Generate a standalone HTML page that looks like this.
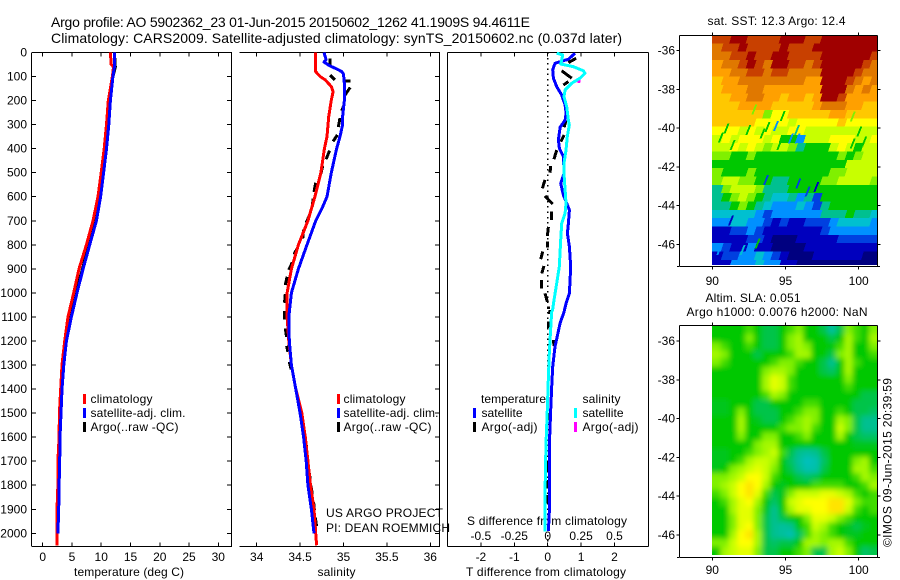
<!DOCTYPE html>
<html>
<head>
<meta charset="utf-8">
<title>Argo profile</title>
<style>
html,body{margin:0;padding:0;background:#fff;}
body{width:900px;height:580px;overflow:hidden;}
svg{display:block;}
text{font-family:"Liberation Sans",sans-serif;font-size:12px;fill:#000;}
.title{font-size:14px;}
</style>
</head>
<body>
<svg id="chart" xmlns="http://www.w3.org/2000/svg" width="900" height="580" viewBox="0 0 900 580">
<defs>
<clipPath id="clip-sst"><rect x="712" y="35" width="165.5" height="230"/></clipPath>
<clipPath id="clip-sla"><rect x="712" y="326" width="165.5" height="229"/></clipPath>
<clipPath id="clip-p1"><rect x="32" y="52" width="200" height="494"/></clipPath>
<clipPath id="clip-p2"><rect x="240" y="52" width="200" height="494"/></clipPath>
<clipPath id="clip-p3"><rect x="448" y="52" width="200" height="494"/></clipPath>
<filter id="soft" filterUnits="userSpaceOnUse" x="680" y="300" width="220" height="280"><feGaussianBlur stdDeviation="2.6"/></filter>
</defs>

<text class="title" x="51" y="27" textLength="479">Argo profile: AO 5902362_23 01-Jun-2015 20150602_1262 41.1909S 94.4611E</text>
<text class="title" x="51" y="43" textLength="571">Climatology: CARS2009. Satellite-adjusted climatology: synTS_20150602.nc (0.037d later)</text>

<text x="74" y="576" textLength="110">temperature (deg C)</text>
<text x="317.500" y="576" textLength="38">salinity</text>
<text x="466" y="576" textLength="160">T difference from climatology</text>
<text x="467" y="525" textLength="160">S difference from climatology</text>

<text x="326" y="517" textLength="117">US ARGO PROJECT</text>
<text x="326" y="532" textLength="124">PI: DEAN ROEMMICH</text>

<g>
<rect x="83" y="394" width="3" height="10" fill="#f00"/>
<text x="90.500" y="403" textLength="62">climatology</text>
<rect x="83" y="408" width="3" height="10" fill="#00f"/>
<text x="90.500" y="417" textLength="95">satellite-adj. clim.</text>
<rect x="83" y="422" width="3" height="10" fill="#000"/>
<text x="90.500" y="431" textLength="88">Argo(..raw -QC)</text>
</g>

<g>
<rect x="337" y="394" width="3" height="10" fill="#f00"/>
<text x="343.500" y="403" textLength="62">climatology</text>
<rect x="337" y="408" width="3" height="10" fill="#00f"/>
<text x="343.500" y="417" textLength="95">satellite-adj. clim.</text>
<rect x="337" y="422" width="3" height="10" fill="#000"/>
<text x="343.500" y="431" textLength="88">Argo(..raw -QC)</text>
</g>

<g>
<text x="481" y="403" textLength="65">temperature</text>
<rect x="473" y="408" width="3" height="10" fill="#00f"/>
<text x="481.500" y="417" textLength="41">satellite</text>
<rect x="473" y="422" width="3" height="10" fill="#000"/>
<text x="481.500" y="431" textLength="56">Argo(-adj)</text>
<text x="582.500" y="403" textLength="38">salinity</text>
<rect x="574" y="408" width="3" height="10" fill="#0ff"/>
<text x="582.500" y="417" textLength="41">satellite</text>
<rect x="574" y="422" width="3" height="10" fill="#f0f"/>
<text x="582.500" y="431" textLength="56">Argo(-adj)</text>
</g>

<text x="707.500" y="25" textLength="138">sat. SST: 12.3 Argo: 12.4</text>
<text x="705.500" y="302" textLength="95">Altim. SLA: 0.051</text>
<text x="686.500" y="316" textLength="181">Argo h1000: 0.0076 h2000: NaN</text>
<text transform="translate(891.500,547) rotate(-90)" x="0" y="0" textLength="169">©IMOS 09-Jun-2015 20:39:59</text>
</svg>

<script>
/* ---------- profile depth axis ---------- */
const depthTicks = [0,100,200,300,400,500,600,700,800,900,1000,1100,1200,1300,1400,1500,1600,1700,1800,1900,2000];
const tempTicks = [0,5,10,15,20,25,30];
const salTicks = [34,34.5,35,35.5,36];
const tDiffTicks = [-2,-1,0,1,2];
const sDiffTicks = [-0.5,-0.25,0,0.25,0.5];
const sDiffLabels = ["-0.5","-0.25","0","0.25","0.5"];
const mapLons = [90,95,100];
const mapLats = [-36,-38,-40,-42,-44,-46];

/* ---------- temperature panel ---------- */
const tempClimDepth = [0,50,60,100,200,300,400,500,600,700,800,900,1000,1100,1200,1300,1400,1500,1600,1700,1800,1900,2000,2050];
const tempClim = [11.56,11.7,12.1,11.9,11.2,10.9,10.5,10.0,9.45,8.6,7.46,6.2,5.3,4.33,3.76,3.3,3.08,2.85,2.8,2.6,2.6,2.45,2.45,2.45];
const tempSatDepth = [0,60,100,200,300,400,500,600,700,800,900,1000,1100,1200,1300,1400,1500,1600,1700,1800,1900,2000];
const tempSat = [12.3,12.25,12.0,11.56,11.3,10.9,10.4,9.9,9.17,8.03,6.9,5.86,4.9,4.05,3.6,3.3,3.13,2.96,2.9,2.8,2.73,2.6];
const tempArgoDepth = [20,60,100,200,300,400,500,600,700,800,900,1000,1100,1200,1300,1400,1500];
const tempArgo = [12.3,12.4,12.0,11.5,11.2,10.8,10.3,9.8,9.1,7.9,6.8,5.7,4.8,4.0,3.5,3.2,3.0];

/* ---------- salinity panel ---------- */
const salClimDepth = [0,80,100,114,142,163,198,267,350,400,500,600,700,800,900,1000,1100,1200,1300,1400,1500,1600,1700,1800,1900,2000,2050];
const salClim = [34.68,34.68,34.73,34.79,34.86,34.88,34.86,34.83,34.81,34.78,34.74,34.67,34.59,34.48,34.40,34.35,34.35,34.37,34.40,34.45,34.52,34.56,34.59,34.62,34.66,34.68,34.69];
const salSatDepth = [0,30,40,55,70,80,90,130,198,267,300,350,400,500,600,650,700,800,900,1000,1100,1200,1300,1400,1500,1600,1700,1800,1900,2000];
const salSat = [34.775,34.80,34.775,34.84,34.93,34.98,35.0,35.01,35.01,34.99,34.99,34.96,34.92,34.86,34.81,34.75,34.68,34.58,34.48,34.40,34.37,34.375,34.40,34.45,34.50,34.54,34.57,34.59,34.63,34.66];
const salArgoDepth = [25,52,null,94,114,null,118,118,null,145,177,null,214,242,null,273,310,null,343,370,null,408,444,null,471,504,null,542,580,null,607,641,null,676,708,null,737,773,null,813,840,null,873,904,null,933,967,null,1005,1041,null,1075,1110,null,1148,1183,null,1220,1245,null,1287,1317,null,1612,1641,null,1666,1705,null,1737,1772,null,1801,1835,null,1870,1903,null,1936,1971];
const salArgo = [34.844,34.844,null,34.844,34.90,null,35.017,35.083,null,35.077,35.017,null,35.01,34.98,null,34.96,34.94,null,34.93,34.88,null,34.84,34.80,null,34.76,34.74,null,34.68,34.66,null,34.65,34.64,null,34.61,34.57,null,34.54,34.53,null,34.47,34.43,null,34.41,34.37,null,34.35,34.33,null,34.33,34.32,null,34.32,34.32,null,34.33,34.345,null,34.345,34.36,null,34.375,34.395,null,34.56,34.575,null,34.575,34.595,null,34.60,34.615,null,34.625,34.64,null,34.655,34.665,null,34.675,34.69];

/* ---------- difference panel ---------- */
const tDiffSatDepth = [3,28,45,73,107,142,177,218,253,281,311,364,399,433,503,544,593,627,655,711,752,808,891,1002,1043,1078,1126,1224,1307,1390,1487,1626,1764,1903,1990];
const tDiffSat = [0.82,0.62,0.22,0.15,0.17,0.27,0.42,0.52,0.55,0.52,0.37,0.32,0.35,0.47,0.49,0.39,0.47,0.57,0.65,0.62,0.59,0.65,0.69,0.65,0.55,0.49,0.37,0.22,0.15,0.12,0.09,0.05,0.05,0.05,0.02];
const sDiffSatDepth = [3,10,31,48,59,76,87,107,128,156,184,225,281,302,350,406,461,503,572,627,669,711,780,891,960,1030,1071,1078,1154,1251,1348,1487,1626,1764,1903,1993];
const sDiffSat = [0.067,0.112,0.105,0.097,0.192,0.267,0.279,0.242,0.179,0.13,0.122,0.142,0.155,0.162,0.147,0.137,0.122,0.122,0.13,0.137,0.13,0.105,0.097,0.087,0.067,0.047,0.037,0.03,0.022,0.012,0.005,-0.003,-0.013,-0.018,-0.02,-0.02];
const tDiffArgoDepth = [24,42,null,76,107,null,135,121,null,281,311,null,343,371,null,406,444,null,472,500,null,530,565,null,597,630,null,662,697,null,725,763,null,787,811,null,828,860,null,888,919,null,946,981,null,1002,1037,null,1057,1068,null,1071,1088,null,1120,1147,null,1196,1221,null,1500,1530,null,1700,1740,null,1778,1813,null,1841,1875];
const tDiffArgo = [0.85,0.62,null,0.42,0.72,null,0.47,0.62,null,0.55,0.49,null,0.49,0.39,null,0.27,0.19,null,0.09,0.07,null,-0.08,-0.16,null,-0.08,0.15,null,0.12,0.12,null,0.02,-0.01,null,-0.01,-0.01,null,-0.15,-0.21,null,-0.11,-0.18,null,-0.18,-0.18,null,-0.08,-0.01,null,0.02,0.02,null,0.07,0.05,null,0.02,0.02,null,0.17,0.19,null,0.02,0.02,null,0.0,0.0,null,-0.01,-0.01,null,-0.01,-0.01];
const sDiffArgoDepth = [118,122];
const sDiffArgo = [0.22,0.245];

/* ---------- SST map (colour-level per cell, north to south, west to east) ---------- */
const sstLevels = [
[13,13,14,14,13,13,13,13,14,14,14,13,13,14,14,14,14,14,14,14],
[12,13,13,14,13,13,13,13,14,13,13,13,14,14,14,14,14,14,14,14],
[12,12,13,13,14,13,13,14,14,13,13,13,13,14,14,14,14,14,14,13],
[11,12,12,13,14,13,12,14,14,13,13,12,13,14,14,14,14,14,13,12],
[11,11,12,12,13,13,12,13,13,12,12,12,12,14,14,14,14,13,12,12],
[10,11,11,12,12,12,12,12,12,12,12,11,11,14,14,14,13,12,11,12],
[10,11,11,11,12,12,11,11,11,11,11,11,11,14,14,14,12,11,12,11],
[10,10,11,11,12,12,11,11,10,11,11,10,11,14,14,13,11,11,11,11],
[10,10,10,11,11,11,11,10,10,10,10,10,11,12,12,12,11,11,10,10],
[10,10,10,10,10,10,7,9,9,10,10,10,10,10,11,11,10,10,10,10],
[10,10,10,10,10,9,9,9,9,8,9,9,9,9,9,10,9,9,9,9],
[9,9,9,8,9,8,9,8,8,9,9,8,8,8,8,8,8,8,8,8],
[8,9,8,9,9,9,8,9,6,6,3,8,8,8,9,9,9,8,8,9],
[8,8,9,8,9,8,7,8,8,7,5,6,6,6,8,9,8,6,8,8],
[7,7,6,6,7,6,6,6,6,6,6,6,6,6,6,7,6,7,8,8],
[6,6,6,6,6,6,6,6,6,6,6,6,6,6,6,6,8,8,8,8],
[7,6,6,6,7,6,6,6,6,6,6,6,6,6,7,7,8,8,8,8],
[7,8,8,7,7,6,6,5,5,6,6,6,6,7,7,8,8,8,8,7],
[5,7,8,8,8,7,5,5,5,6,6,6,6,6,6,6,6,6,6,6],
[5,6,7,8,7,6,5,4,4,5,3,5,2,6,6,6,6,6,6,6],
[5,5,6,7,6,5,4,3,3,3,4,3,2,5,6,6,6,6,6,6],
[4,4,4,4,4,3,2,3,3,3,3,3,3,5,5,5,6,5,5,4],
[3,3,4,4,3,3,2,1,2,1,1,2,2,2,3,4,4,4,4,3],
[1,1,2,2,3,2,1,1,1,1,1,1,1,2,3,3,3,3,3,3],
[1,1,1,1,2,2,1,0,0,0,1,1,1,1,1,2,2,2,2,2],
[3,2,1,1,3,1,1,0,0,0,0,1,1,1,1,1,1,1,1,1],
[1,2,2,3,3,4,3,2,1,0,0,0,1,1,1,1,1,1,0,0],
[1,1,3,3,3,4,3,3,1,1,0,0,0,0,0,0,0,0,0,0]
];
const sstSpeckleLon = [92.8,94.74,90.91,92.39,93.71,94.28,93.37,95.72,90.52,91.32,95.3,95.76,94.51,99.52,100.3,99.97,99.52,97.04,96.44,95.81,93.6,91.2,90.41,93.03,92.0];
const sstSpeckleLat = [-39.03,-39.38,-40.01,-40.1,-39.93,-39.89,-40.27,-40.1,-40.48,-40.87,-40.53,-40.53,-40.87,-40.79,-40.7,-40.18,-39.41,-43.03,-43.28,-42.85,-42.68,-44.78,-46.3,-45.95,-46.3];
const sstSpeckleLevel = [7,6,6,6,6,3,6,5,6,6,3,3,6,6,6,6,7,1,2,2,2,1,3,6,4];

/* ---------- SLA map (colour-level per cell, north to south, west to east) ---------- */
const slaLevels = [
[6,6,6,6,6.5,6,5.5,5.5,6,6.5,7,6,6,5.5,4.8,5.5,7,6.5,6,7],
[6,6,6,6,7,6,5.5,5.5,6,7,7.5,6,6,6,5.5,6,7.5,6.5,6,7.5],
[7,6.5,6,6,6.5,6,5.5,5.5,6,7,7.5,7,6,6,6,6.5,7.5,6,6,7],
[7.5,7,6,6,6,5.5,6,6,6,6.5,7.5,7.5,6,6,5.5,7,7.5,6,6,6.5],
[7,6.5,6,6,6,6,6,6.5,7,7,6.5,6,6,5.5,5,6,7.5,6.5,6,6],
[6,6,6,6,6,6,7,7.5,7.5,7,6,6,6,5.5,5.3,6,7.5,6,6,6],
[6,6,6,6,6,6,7.5,8.5,8,6.5,6,6,6,6,6,6,7,6,6,6],
[6,6,6,6,6,6,7.5,8.5,8,6.5,6,6,6,6,6,6,6.5,6,6,6],
[6,6,6,6,6,6,6.5,7.5,7,6,6,6,6,6,6,6,6,6,5.5,5.5],
[5.8,5.8,6,6,6,5.5,5.5,6,6,6,6,6.5,6.5,6,6,6,6,5.5,5.5,5.5],
[5.8,5.8,6,7,6,5.5,5.5,5.5,6,6,6.5,7,7,6,6,6.5,6,5.5,5.5,5.3],
[6,6,6,7.5,6,5.8,5.5,5.5,6,6.5,7,7.5,7,6,6,7.5,7,5.5,5,5],
[6,6,6,7.5,6,6,6,6,6.5,7,7,7.5,6.5,6,6,8,7,5.5,5,5],
[6,6,6,7,6,6,7,7,6,6,6.5,7,6,6,6,7.5,6,5.5,5.3,5.3],
[6,6,6,6,6,7,7.5,7.5,6,6,6,6,6,6,6,6,6,5.8,5.8,5.8],
[5.8,5.8,6,6,6.5,7,7.5,8,6.5,5.5,5,4.8,5,5.5,6,6,6,6,6,6],
[5.8,5.8,6,6.5,7.5,8,8,7.5,6,5.3,4.8,4.3,4.5,5.3,6,6,6,7,7.5,6],
[5.8,6,7,7.5,8,8.5,8,7,6,5.5,5,4.5,4.6,5.5,6,6,6,7.5,7.5,6.5],
[7,7,7.5,8,9,9,8,6.5,6,6,5.5,5.3,5.5,6,6,6,6,6.5,7.5,7],
[7,7.5,8,9,9.5,9,7.5,6,5.8,6,6,6,6.5,6.5,6.5,6.5,6,6,6.5,7.5],
[6.5,7,8,9,9.5,8.5,6.5,5.5,5.8,7,8,8,8,8.5,8.5,8,7.5,6.5,6,6.5],
[6,6.5,7.5,8.5,9,7.5,6,5.3,6,8,8.5,9,9,9,9.5,9.5,8.5,7,6.5,6.5],
[6,6,7.5,8.5,8.5,7,5.8,5,6,7.5,8.5,8.5,9,9,9.5,9.5,8,6.5,6,6.5],
[6,6,7,8.5,8.5,7,5.5,5,5.5,6,6,7,8.5,8.5,8,7,6.5,6,6,6],
[6,6,7,8.5,9,7,5.5,5,4.8,5,6,6.5,8,7.5,6.5,6,5.8,5.5,5.8,6],
[6,6,7.5,9,9.5,7.5,5.5,5,4.8,4.5,5.3,6.5,7.5,7,6.5,6,5.8,5.8,6,6],
[7,7,8,9,9,7.5,5.5,5.3,5.5,5.5,6,7.5,7.5,7,7.5,7.5,6.5,6,6,6],
[6,7.5,8,8.5,8.5,7,5.5,5.5,6,6,6.5,7,5.5,5.5,7.5,8,7,6,5.3,5.5]
];

/* ---------- colour ramp shared by both maps ---------- */
const rampColors = [[0,0,128],[0,0,190],[0,64,224],[0,144,255],[0,192,208],[0,192,144],[0,200,0],[128,240,0],[200,255,0],[255,255,0],[255,200,0],[255,160,0],[224,120,0],[200,64,0],[160,0,0]];

/* ---------- axis functions ---------- */
const depthY = d => 52.5 + d * 0.2404;
const tempX = t => 42.7 + t * 5.853;
const salX = s => 256.7 + (s - 34) * 86.8;
const tDiffX = v => 547.7 + v * 33.4;
const sDiffX = v => 547.7 + v * 133.6;
const lonX = lon => 712.3 + (lon - 90) * 14.64;
const sstLatY = lat => 50.7 + (-36 - lat) * 19.36;
const slaLatY = lat => 341 + (-36 - lat) * 19.4;

const svg = document.getElementById('chart');
const NS = 'http://www.w3.org/2000/svg';
function make(tag, attrs, parent) {
  const el = document.createElementNS(NS, tag);
  for (const k in attrs) el.setAttribute(k, attrs[k]);
  (parent || svg).appendChild(el);
  return el;
}
function rampColor(v) {
  const lo = Math.max(0, Math.min(rampColors.length - 1, Math.floor(v)));
  const hi = Math.min(rampColors.length - 1, lo + 1);
  const f = Math.max(0, Math.min(1, v - lo));
  const c = rampColors[lo].map((a, i) => Math.round(a + (rampColors[hi][i] - a) * f));
  return 'rgb(' + c.join(',') + ')';
}
function segment(parent, x1, y1, x2, y2) {
  const el = make('line', {x1: x1, y1: y1, x2: x2, y2: y2, stroke: '#000', 'stroke-width': 1, 'shape-rendering': 'crispEdges'}, parent);
  return el;
}
function label(str, x, y, anchor) {
  const el = make('text', {x: x, y: y, 'text-anchor': anchor || 'middle'});
  el.textContent = str;
  return el;
}
function profileLine(parent, xs, depths, xFn, color, width) {
  let pts = [];
  const lines = [];
  const flush = () => {
    if (pts.length > 1) {
      lines.push(make('polyline', {points: pts.join(' '), fill: 'none', stroke: color, 'stroke-width': width, 'shape-rendering': 'crispEdges', 'stroke-linejoin': 'round'}, parent));
    }
    pts = [];
  };
  for (let i = 0; i < xs.length; i++) {
    if (xs[i] === null || depths[i] === null) { flush(); continue; }
    pts.push(xFn(xs[i]).toFixed(1) + ',' + depthY(depths[i]).toFixed(1));
  }
  flush();
  return lines;
}

/* ---------- panel frames ---------- */
const plotTop = 52.5, plotBottom = 546.5;

const frame1 = make('g', {});


segment(frame1, 32, plotTop, 232, plotTop);
segment(frame1, 32, plotBottom, 232, plotBottom);
segment(frame1, 31.5, plotTop, 31.5, plotBottom);
segment(frame1, 231.5, plotTop, 231.5, plotBottom);
depthTicks.forEach(d => {
  segment(frame1, 32, depthY(d), 36, depthY(d));
  segment(frame1, 227, depthY(d), 231, depthY(d));
  const t = label(String(d), 27, depthY(d) + 4, 'end');
  
  
});
tempTicks.forEach(v => {
  segment(frame1, tempX(v), plotTop, tempX(v), plotTop + 4);
  segment(frame1, tempX(v), plotBottom, tempX(v), plotBottom - 4);
  const t = label(String(v), tempX(v), 561);
  
  
});

const frame2 = make('g', {});


segment(frame2, 239.5, plotTop, 440, plotTop);
segment(frame2, 239.5, plotBottom, 440, plotBottom);
segment(frame2, 439.5, plotTop, 439.5, plotBottom);
depthTicks.forEach(d => {
  segment(frame2, 435, depthY(d), 439, depthY(d));
});
salTicks.forEach(v => {
  segment(frame2, salX(v), plotTop, salX(v), plotTop + 4);
  segment(frame2, salX(v), plotBottom, salX(v), plotBottom - 4);
  const t = label(String(v), salX(v), 561);
  
  
});

const frame3 = make('g', {});


segment(frame3, 447.5, plotTop, 648.5, plotTop);
segment(frame3, 447.5, plotBottom, 648.5, plotBottom);
segment(frame3, 447.5, plotTop, 447.5, plotBottom);
segment(frame3, 648.5, plotTop, 648.5, plotBottom);
tDiffTicks.forEach(v => {
  segment(frame3, tDiffX(v), plotTop, tDiffX(v), plotTop + 4);
  segment(frame3, tDiffX(v), plotBottom, tDiffX(v), plotBottom - 4);
  const t = label(String(v), tDiffX(v), 561);
  
  
});
sDiffTicks.forEach((v, i) => {
  const t = label(sDiffLabels[i], sDiffX(v), 540);
  
  
});
const zeroLine = make('line', {x1: tDiffX(0), y1: plotTop, x2: tDiffX(0), y2: plotBottom, stroke: '#000', 'stroke-width': 1.5, 'stroke-dasharray': '1.5 3.8', 'shape-rendering': 'crispEdges'});



/* ---------- series ---------- */
const s1 = make('g', {'clip-path': 'url(#clip-p1)'});


profileLine(s1, tempArgo, tempArgoDepth, tempX, '#000', 3).forEach(el => {
  
  
});
profileLine(s1, tempClim, tempClimDepth, tempX, '#f00', 3).forEach(el => {
  
  
});
profileLine(s1, tempSat, tempSatDepth, tempX, '#00f', 3).forEach(el => {
  
  
});

const s2 = make('g', {'clip-path': 'url(#clip-p2)'});


profileLine(s2, salArgo, salArgoDepth, salX, '#000', 3).forEach(el => {
  
  
});
profileLine(s2, salClim, salClimDepth, salX, '#f00', 3).forEach(el => {
  
  
});
profileLine(s2, salSat, salSatDepth, salX, '#00f', 3).forEach(el => {
  
  
});

const s3 = make('g', {'clip-path': 'url(#clip-p3)'});


profileLine(s3, sDiffArgo, sDiffArgoDepth, sDiffX, '#f0f', 3).forEach(el => {
  
  
});
profileLine(s3, tDiffArgo, tDiffArgoDepth, tDiffX, '#000', 3).forEach(el => {
  
  
});
profileLine(s3, tDiffSat, tDiffSatDepth, tDiffX, '#00f', 3).forEach(el => {
  
  
});
profileLine(s3, sDiffSat, sDiffSatDepth, sDiffX, '#0ff', 3).forEach(el => {
  
  
});

/* ---------- maps ---------- */
const sstNorth = -35.19, sstRowDeg = 0.43, mapColDeg = 0.5635;
const sstCells = make('g', {'clip-path': 'url(#clip-sst)'});


sstLevels.forEach((row, r) => {
  row.forEach((v, c) => {
    let x0 = lonX(90 + c * mapColDeg);
    const x1 = lonX(90 + (c + 1) * mapColDeg);
    const y0 = sstLatY(sstNorth - r * sstRowDeg), y1 = sstLatY(sstNorth - (r + 1) * sstRowDeg);
    const lean = 3;
    if (c === 0) x0 -= 8;
    const cell = make('polygon', {
      points: [[x0 + lean, y0], [x1 + lean, y0], [x1, y1 + 1], [x0, y1 + 1]].map(p => p[0].toFixed(1) + ',' + p[1].toFixed(1)).join(' '),
      fill: rampColor(v),
      'shape-rendering': 'crispEdges'
    }, sstCells);
    
    
  });
});
sstSpeckleLon.forEach((lon, i) => {
  const sx = lonX(lon), sy = sstLatY(sstSpeckleLat[i]);
  const speck = make('polygon', {
    points: [[sx + 2, sy - 5], [sx + 4, sy - 5], [sx, sy + 5], [sx - 2, sy + 5]].map(p => p[0].toFixed(1) + ',' + p[1].toFixed(1)).join(' '),
    fill: rampColor(sstSpeckleLevel[i]),
    'shape-rendering': 'crispEdges'
  }, sstCells);
  
  
});

const slaNorth = -35.21, slaRowDeg = 0.4222;
const slaClip = make('g', {'clip-path': 'url(#clip-sla)'});


const slaCells = make('g', {filter: 'url(#soft)'}, slaClip);
slaLevels.forEach((row, r) => {
  row.forEach((v, c) => {
    let x0 = lonX(90 + c * mapColDeg), x1 = lonX(90 + (c + 1) * mapColDeg);
    let y0 = slaLatY(slaNorth - r * slaRowDeg), y1 = slaLatY(slaNorth - (r + 1) * slaRowDeg);
    if (c === 0) x0 -= 10;
    if (c === row.length - 1) x1 += 10;
    if (r === 0) y0 -= 10;
    if (r === slaLevels.length - 1) y1 += 10;
    const cell = make('rect', {x: x0, y: y0, width: x1 - x0 + 0.5, height: y1 - y0 + 0.5, fill: rampColor(v)}, slaCells);
    
    
  });
});

function mapFrame(name, yTop, yBottom, latFn, labelY) {
  const g = make('g', {});
  
  
  segment(g, 679.5, yTop, 877.5, yTop);
  segment(g, 679.5, yBottom, 877.5, yBottom);
  segment(g, 679.5, yTop, 679.5, yBottom);
  segment(g, 877.5, yTop, 877.5, yBottom);
  segment(g, 677, yBottom, 679, yBottom);
  segment(g, 877.5, yBottom, 880, yBottom);
  mapLons.forEach(lon => {
    segment(g, lonX(lon), yTop - 3, lonX(lon), yTop);
    segment(g, lonX(lon), yBottom, lonX(lon), yBottom + 3);
    const t = label(String(lon), lonX(lon), labelY);
    
    
  });
  mapLats.forEach(lat => {
    segment(g, 676.5, latFn(lat), 679.5, latFn(lat));
    segment(g, 877.5, latFn(lat), 880.5, latFn(lat));
    const t = label(String(lat), 675, latFn(lat) + 4, 'end');
    
    
  });
}
mapFrame('sst-map-axes', 35.5, 266.5, sstLatY, 285);
mapFrame('sla-map-axes', 325.5, 557.5, slaLatY, 574);
</script>
</body>
</html>
